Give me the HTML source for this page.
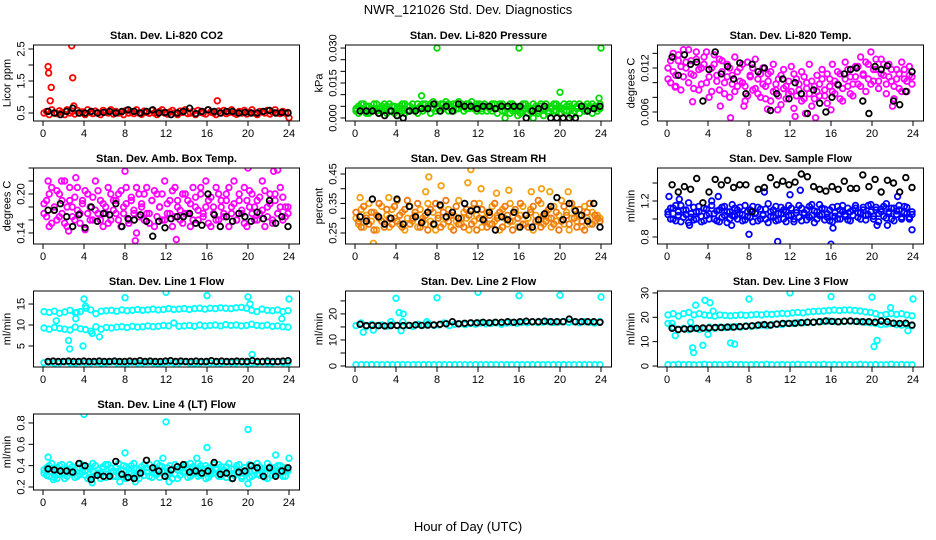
<!DOCTYPE html>
<html><head><meta charset="utf-8"><style>
html,body{margin:0;padding:0;background:#fff;}
svg{display:block;font-family:"Liberation Sans",Arial,sans-serif;}
</style></head><body>
<svg id="chart" width="936" height="540" viewBox="0 0 936 540">
<text x="468" y="14" text-anchor="middle" font-size="13">NWR_121026 Std. Dev. Diagnostics</text>
<text x="468" y="531" text-anchor="middle" font-size="13">Hour of Day (UTC)</text>
</svg>
<script>
// ---------- data ----------
const xTicks=[0,4,8,12,16,20,24];
const co2Red=[0.5,0.55,0.45,0.6,0.5,0.48,0.57,0.52,0.45,0.6,0.5,0.55,0.47,0.58,0.5,0.53,0.45,0.6,0.52,0.48,0.56,0.5,0.45,0.58,0.53,0.5,0.6,0.47,0.55,0.5,0.52,0.45,0.58,0.5,0.55,0.48,0.6,0.5,0.46,0.56,0.52,0.49,0.58,0.5,0.45,0.55,0.6,0.5,0.47,0.53,0.58,0.5,0.45,0.56,0.52,0.6,0.48,0.5,0.55,0.45,0.58,0.52,0.5,0.47,0.6,0.53,0.5,0.45,0.56,0.5,0.58,0.48,0.52,0.6,0.5,0.46,0.55,0.5,0.58,0.47,0.52,0.6,0.5,0.45,0.55,0.53,0.5,0.58,0.47,0.52,0.6,0.5,0.48,0.55,0.5,0.52];
const co2OutX=[0.5,0.55,0.8,0.7,2.8,2.9,3.0,17,24];
const co2OutY=[1.95,1.75,1.3,0.88,2.6,1.6,0.72,0.88,0.35];
const co2Black=[0.55,0.5,0.45,0.55,0.65,0.5,0.5,0.55,0.5,0.52,0.55,0.5,0.55,0.6,0.55,0.5,0.55,0.6,0.5,0.52,0.45,0.5,0.55,0.65,0.48,0.55,0.6,0.55,0.5,0.55,0.55,0.5,0.52,0.5,0.5,0.55,0.58,0.5,0.52,0.5];

const presGreen=[0.004,0.002,0.006,0.003,0.005,0.002,0.004,0.006,0.003,0.002,0.005,0.004,0.002,0.006,0.003,0.005,0.001,0.004,0.006,0.002,0.005,0.003,0.006,0.004,0.002,0.005,0.003,0.006,0.004,0.002,0.007,0.003,0.005,0.006,0.004,0.007,0.003,0.005,0.006,0.004,0.007,0.005,0.003,0.006,0.004,0.007,0.005,0.003,0.006,0.004,0.006,0.003,0.005,0.006,0.004,0.002,0.006,0.003,0.0,0.005,0.002,0.006,0.004,0.001,0.005,0.003,0.006,0.002,0.004,0.0,0.005,0.003,0.006,0.001,0.004,0.002,0.005,0.003,0.006,0.004,0.002,0.006,0.003,0.005,0.001,0.006,0.004,0.002,0.005,0.003,0.006,0.004,0.002,0.005,0.003,0.006];
const presGreen2=[0.003,0.005,0.004,0.006,0.002,0.005,0.003,0.004,0.006,0.004,0.003,0.006,0.005,0.003,0.005,0.002,0.004,0.005,0.003,0.006,0.003,0.005,0.004,0.003,0.006,0.004,0.006,0.004,0.005,0.006,0.004,0.006,0.004,0.003,0.006,0.005,0.006,0.004,0.003,0.006,0.004,0.006,0.005,0.004,0.006,0.005,0.004,0.006,0.005,0.003,0.005,0.005,0.004,0.003,0.006,0.004,0.005,0.006,0.003,0.004,0.006,0.003,0.005,0.004,0.002,0.006,0.004,0.005,0.003,0.006,0.004,0.002,0.005,0.004,0.006,0.003,0.004,0.006,0.003,0.005,0.004,0.003,0.005,0.006,0.004,0.003,0.005,0.006,0.004,0.005,0.003,0.005,0.006,0.004,0.005,0.004];
const presOutX=[8,16,24,20,6.5,23.8];
const presOutY=[0.030,0.030,0.030,0.011,0.0095,0.0085];
const presBlack=[0.003,0.003,0.003,0.002,0.001,0.003,0.001,0.0,0.003,0.003,0.004,0.004,0.006,0.003,0.005,0.003,0.006,0.005,0.005,0.004,0.005,0.005,0.004,0.005,0.005,0.005,0.005,0.0,0.003,0.004,0.005,0.0,0.0,0.0,0.0,0.0,0.005,0.003,0.004,0.005];

const tempMag=[0.012,0.010,0.014,0.011,0.013,0.009,0.0145,0.012,0.010,0.013,0.011,0.0142,0.009,0.012,0.0135,0.010,0.008,0.012,0.0138,0.011,0.009,0.013,0.010,0.0125,0.008,0.011,0.0135,0.0095,0.012,0.010,0.0075,0.0128,0.011,0.009,0.0132,0.0105,0.008,0.012,0.0095,0.0112,0.0075,0.0125,0.009,0.0105,0.007,0.0118,0.0095,0.0085,0.0122,0.0065,0.0105,0.009,0.0115,0.0078,0.010,0.0125,0.0068,0.0095,0.011,0.0082,0.0118,0.009,0.0072,0.0105,0.0125,0.0085,0.0098,0.0112,0.0075,0.0128,0.0095,0.0108,0.0082,0.0122,0.0098,0.0135,0.011,0.0088,0.0125,0.0142,0.0102,0.0118,0.0092,0.0132,0.011,0.0085,0.0125,0.0102,0.0078,0.0118,0.0092,0.0128,0.0105,0.0088,0.0122,0.0108];
const tempMag2=[0.0105,0.013,0.0115,0.0095,0.0138,0.0122,0.0108,0.0128,0.0145,0.0112,0.0092,0.0132,0.0118,0.0098,0.0125,0.0142,0.0108,0.0088,0.0125,0.0102,0.0132,0.0115,0.0085,0.0108,0.012,0.0098,0.0088,0.0115,0.0102,0.0125,0.0095,0.0082,0.0108,0.012,0.0092,0.0085,0.0112,0.0098,0.0078,0.0102,0.0115,0.0088,0.0098,0.0082,0.011,0.0092,0.0078,0.0102,0.0088,0.0112,0.0082,0.0098,0.0075,0.0108,0.0092,0.0085,0.0102,0.0078,0.0088,0.0098,0.0105,0.0082,0.0112,0.0095,0.0088,0.0102,0.0115,0.0078,0.0092,0.0105,0.0118,0.0085,0.0098,0.0108,0.0122,0.0095,0.0112,0.0128,0.0105,0.0098,0.0118,0.0132,0.0102,0.0112,0.0125,0.0098,0.0108,0.0118,0.0095,0.0105,0.0112,0.0088,0.0118,0.0102,0.011,0.0098];
const tempOutX=[0.8,2.5,6.2,5.2,7.5,9.8,10.8,12.5,13.5,14.5,16,22];
const tempOutY=[0.0094,0.0074,0.0052,0.0068,0.0068,0.0064,0.0063,0.0054,0.0058,0.0052,0.0063,0.0068];
const tempBlack=[0.0135,0.011,0.0138,0.0125,0.0128,0.0075,0.0118,0.0142,0.0112,0.0122,0.0105,0.0127,0.0085,0.0125,0.0115,0.0120,0.0062,0.0085,0.0105,0.0078,0.0100,0.0085,0.0058,0.0090,0.0072,0.0060,0.0080,0.0097,0.0112,0.0118,0.0120,0.0075,0.0058,0.0122,0.0118,0.0123,0.0075,0.0070,0.0088,0.0115];

const ambMag=[0.17,0.19,0.15,0.21,0.18,0.16,0.20,0.17,0.22,0.15,0.19,0.18,0.16,0.21,0.17,0.19,0.145,0.20,0.18,0.16,0.22,0.17,0.19,0.15,0.18,0.21,0.16,0.19,0.17,0.20,0.15,0.18,0.21,0.16,0.19,0.17,0.14,0.20,0.18,0.16,0.21,0.17,0.19,0.15,0.20,0.18,0.16,0.22,0.17,0.19,0.15,0.21,0.18,0.16,0.20,0.17,0.19,0.15,0.21,0.18,0.16,0.20,0.17,0.22,0.19,0.15,0.18,0.21,0.16,0.19,0.17,0.20,0.15,0.18,0.22,0.16,0.19,0.17,0.21,0.15,0.18,0.20,0.16,0.19,0.17,0.22,0.15,0.18,0.20,0.16,0.19,0.17,0.21,0.16,0.18,0.17];
const ambMag2=[0.185,0.165,0.2,0.155,0.175,0.205,0.165,0.19,0.155,0.18,0.21,0.165,0.195,0.175,0.155,0.185,0.205,0.17,0.16,0.195,0.175,0.205,0.16,0.185,0.17,0.155,0.2,0.175,0.19,0.16,0.205,0.17,0.185,0.155,0.195,0.175,0.21,0.165,0.185,0.2,0.17,0.155,0.19,0.205,0.165,0.18,0.2,0.16,0.185,0.17,0.205,0.165,0.19,0.175,0.155,0.2,0.17,0.185,0.16,0.195,0.175,0.21,0.165,0.18,0.155,0.195,0.17,0.16,0.2,0.18,0.165,0.19,0.21,0.17,0.185,0.16,0.2,0.175,0.155,0.19,0.205,0.17,0.18,0.16,0.195,0.175,0.205,0.165,0.185,0.155,0.2,0.17,0.18,0.195,0.165,0.18];
const ambOutX=[0.5,1.8,3.2,8.0,20,22.5,22.9,9,13,2.5];
const ambOutY=[0.22,0.22,0.225,0.235,0.24,0.235,0.237,0.128,0.13,0.143];
const ambBlack=[0.175,0.175,0.185,0.165,0.15,0.168,0.148,0.18,0.158,0.17,0.168,0.185,0.15,0.162,0.16,0.168,0.158,0.135,0.158,0.148,0.162,0.165,0.165,0.17,0.155,0.152,0.2,0.168,0.15,0.165,0.158,0.17,0.165,0.158,0.172,0.162,0.19,0.155,0.165,0.15];

const rhOrange=[0.30,0.28,0.33,0.27,0.31,0.35,0.29,0.32,0.26,0.30,0.34,0.28,0.31,0.27,0.33,0.30,0.36,0.28,0.32,0.26,0.30,0.34,0.29,0.31,0.27,0.33,0.30,0.28,0.35,0.29,0.32,0.26,0.31,0.34,0.28,0.30,0.33,0.27,0.31,0.29,0.36,0.28,0.32,0.30,0.26,0.33,0.29,0.31,0.35,0.27,0.30,0.32,0.28,0.34,0.29,0.31,0.26,0.33,0.30,0.28,0.35,0.29,0.32,0.27,0.31,0.34,0.28,0.30,0.33,0.26,0.31,0.29,0.35,0.28,0.32,0.30,0.27,0.34,0.29,0.31,0.36,0.28,0.32,0.26,0.30,0.33,0.29,0.31,0.27,0.34,0.30,0.28,0.32,0.29,0.31,0.30];
const rhOrange2=[0.32,0.29,0.27,0.34,0.30,0.28,0.32,0.26,0.31,0.35,0.29,0.27,0.33,0.30,0.28,0.34,0.29,0.31,0.27,0.33,0.36,0.28,0.30,0.32,0.35,0.27,0.29,0.31,0.26,0.33,0.28,0.35,0.30,0.27,0.32,0.36,0.29,0.31,0.26,0.34,0.28,0.30,0.27,0.33,0.31,0.28,0.35,0.26,0.30,0.33,0.29,0.27,0.31,0.28,0.35,0.30,0.32,0.27,0.34,0.31,0.29,0.26,0.33,0.30,0.35,0.28,0.31,0.27,0.32,0.34,0.29,0.36,0.27,0.31,0.29,0.33,0.30,0.28,0.32,0.26,0.29,0.34,0.31,0.28,0.35,0.30,0.27,0.33,0.29,0.26,0.32,0.35,0.28,0.31,0.30,0.29];
const rhOutX=[1.8,6.9,7.2,8.4,11.0,11.3,12.3,13.8,15.0,17.2,18.2,19,20.8,0.5,3.3];
const rhOutY=[0.215,0.39,0.44,0.41,0.42,0.465,0.40,0.385,0.395,0.39,0.40,0.39,0.39,0.37,0.37];
const rhBlack=[0.305,0.29,0.365,0.305,0.28,0.30,0.365,0.28,0.34,0.305,0.285,0.32,0.28,0.345,0.305,0.32,0.30,0.35,0.325,0.33,0.295,0.32,0.26,0.305,0.295,0.32,0.27,0.31,0.27,0.295,0.315,0.34,0.37,0.295,0.35,0.325,0.31,0.29,0.35,0.27];

const sfBlue=[1.05,1.0,1.12,0.98,1.08,1.15,1.02,1.1,0.96,1.06,1.13,1.0,1.08,0.97,1.12,1.04,1.0,1.15,1.06,0.98,1.1,1.02,1.14,0.96,1.08,1.04,1.12,1.0,1.06,0.98,1.15,1.03,1.1,0.97,1.07,1.13,1.0,1.05,1.11,0.96,1.08,1.02,1.14,0.99,1.06,1.1,0.97,1.04,1.12,1.0,1.07,1.15,0.98,1.05,1.1,1.02,1.16,0.96,1.08,1.04,1.12,0.99,1.06,1.1,0.97,1.03,1.14,1.0,1.08,1.05,1.12,0.98,1.1,1.15,1.02,1.07,1.13,0.99,1.05,1.16,1.03,1.1,0.97,1.08,1.14,1.01,1.06,1.12,0.98,1.09,1.15,1.02,1.07,1.13,1.0,1.05];
const sfBlue2=[1.08,1.12,1.0,1.15,1.04,0.97,1.1,1.05,1.18,1.02,0.99,1.08,1.14,1.03,0.98,1.11,1.06,1.2,1.0,1.09,0.97,1.13,1.04,1.08,1.0,1.16,1.03,1.1,1.13,1.05,0.99,1.08,1.02,1.14,1.06,0.98,1.11,1.04,1.0,1.17,1.03,1.1,0.98,1.06,1.13,1.0,1.08,1.15,1.04,0.97,1.1,1.02,1.12,1.07,0.99,1.14,1.04,1.09,1.0,1.16,1.05,1.11,1.02,0.98,1.13,1.07,1.0,1.1,1.15,1.03,0.99,1.08,1.04,1.12,1.07,1.0,1.1,1.04,1.15,1.08,1.0,1.13,1.06,1.11,1.03,1.17,1.08,1.0,1.12,1.05,1.1,1.0,1.14,1.06,1.02,1.08];
const sfOutX=[0.2,1.2,2.2,6.3,8,9.5,10.8,13,16,16.2,20.5,21.5,23.9,5,12,22.5];
const sfOutY=[1.25,1.22,0.93,0.93,0.83,1.3,0.75,1.32,0.72,0.9,0.93,0.93,0.88,1.25,1.27,1.25];
const sfBlack=[1.38,1.3,1.36,1.33,1.45,1.18,1.3,1.44,1.38,1.43,1.35,1.38,1.38,1.08,1.33,1.35,1.46,1.38,1.42,1.38,1.41,1.5,1.47,1.36,1.33,1.31,1.36,1.33,1.42,1.34,1.34,1.49,1.36,1.44,1.3,1.43,1.4,1.3,1.46,1.35];

const l1Upper=[13.2,13.0,13.3,12.8,13.1,13.5,12.9,13.2,14.5,13.6,12.7,13.3,13.4,13.5,13.3,13.6,13.4,13.5,13.7,13.5,13.6,13.8,13.6,13.7,13.9,13.7,13.8,13.9,13.7,13.9,14.0,13.8,14.0,13.9,14.1,14.0,13.9,14.1,14.2,14.0,13.5,13.2,13.8,13.5,13.4,13.6,13.2,13.4];
const l1Lower=[9.3,9.0,9.4,9.2,9.0,8.8,9.5,9.1,8.9,8.5,9.6,9.0,9.4,9.3,9.5,9.6,9.4,9.7,9.5,9.6,9.8,9.6,9.7,9.9,9.8,10.5,9.7,9.8,9.9,9.7,10.0,9.8,9.9,10.0,9.8,10.1,9.9,10.0,9.8,9.9,10.2,9.9,9.8,10.0,9.7,9.8,9.6,9.5];
const l1Zero=[1.0,1.1,0.9,1.0,1.2,1.0,0.9,1.1,1.0,1.0,1.1,0.9,1.0,1.2,1.0,1.0,0.9,1.1,1.0,1.0,1.1,1.0,0.9,1.0,1.1,1.0,1.0,1.2,1.0,0.9,1.0,1.1,1.0,1.0,0.9,1.1,1.0,1.0,1.1,1.0,0.9,1.0,1.1,1.0,1.0,1.2,1.0,1.0];
const l1OutX=[2.5,2.6,3.9,5.5,4.0,8.0,12,16,20,24,20.4,1.3,4.8,3.2,23.3,20.2,3.3,4.2];
const l1OutY=[6.3,4.3,5.0,7.2,16.2,16.5,17.8,17,16.7,16.2,3.0,11,8,11.5,11.5,15,13,14];
const l1Black=[1.3,1.4,1.3,1.3,1.4,1.3,1.3,1.4,1.3,1.3,1.4,1.3,1.3,1.4,1.3,1.3,1.4,1.3,1.5,1.3,1.4,1.3,1.3,1.4,1.5,1.3,1.4,1.3,1.3,1.4,1.3,1.3,1.5,1.3,1.4,1.3,1.3,1.4,1.3,1.3,1.5,1.3,1.3,1.4,1.3,1.3,1.4,1.5];

const l2Cyan=[15.5,16.5,15.2,16.0,15.5,15.8,15.3,16.0,15.5,17.0,15.6,15.2,16.0,15.7,16.3,15.6,15.8,16.5,15.5,16.0,16.2,15.9,16.3,16.1,16.5,16.2,16.4,16.6,16.0,16.5,16.7,16.4,16.8,16.6,16.9,16.7,16.8,17.0,16.7,16.9,17.1,16.8,17.0,16.6,17.0,16.8,16.5,17.0];
const l2Zero=[0.5,0.5,0.5,0.5,0.5,0.5,0.5,0.5,0.5,0.5,0.5,0.5,0.5,0.5,0.5,0.5,0.5,0.5,0.5,0.5,0.5,0.5,0.5,0.5,0.5,0.5,0.5,0.5,0.5,0.5,0.5,0.5,0.5,0.5,0.5,0.5,0.5,0.5,0.5,0.5,0.5,0.5,0.5,0.5,0.5,0.5,0.5,0.5];
const l2OutX=[0.8,1.8,4.0,4.3,4.7,4.5,8,12,16,20,24,3.5,7];
const l2OutY=[13,13.8,26,20.5,20,13.5,26.2,28.3,27,27.2,26.5,17,17];
const l2Black=[16,15.5,15.6,15.5,15.4,15.5,15.6,15.5,15.6,15.8,15.6,15.7,15.8,16,16.2,17,16.2,16.4,16.6,16.6,16.8,16.6,16.8,16.8,17,16.8,17,17.2,17,17,17.2,17,17,17,18,17,17,17,17,16.8];

const l3Upper=[21,21.5,20.5,21.5,22,21,21.5,21,20.8,20.5,21,20.8,20.6,20.8,21,20.8,21,21.2,21,21.3,21.2,21.4,21.6,21.5,21.8,22,21.8,22.2,22.4,22.5,22.6,22.8,23,22.8,23,23,22.8,22.6,22.2,22,21.5,20.8,21.2,21.5,21.2,21.5,21,20.6];
const l3Lower=[17.5,16,15,15.5,15,15.5,15,15.5,16,15.5,16,15.8,16,16.2,16,16.5,16.3,16.5,16.8,16.5,17,17.2,17,17.5,17.5,17.8,17.8,18,18,18.2,18.3,18.5,18.3,18.2,18.3,18.5,18.3,18.2,18,17.8,17.5,17,17.2,17.5,17,16.8,17,16.5];
const l3Zero=[0.6,0.5,0.7,0.5,0.6,0.5,0.5,0.7,0.5,0.6,0.5,0.5,0.7,0.5,0.6,0.5,0.5,0.6,0.5,0.7,0.5,0.5,0.6,0.5,0.5,0.7,0.5,0.6,0.5,0.5,0.7,0.5,0.6,0.5,0.5,0.6,0.5,0.7,0.5,0.5,0.6,0.5,0.5,0.7,0.5,0.6,0.5,0.5];
const l3OutX=[0.5,0.8,2.5,2.6,2.8,3.5,3.7,4.2,4.0,4.5,6.2,6.6,8,12,16,20,20.2,20.5,21.8,23.5,24,2.3];
const l3OutY=[17.5,12.5,7.5,5.5,25,8.5,27,26,13,22.5,9.5,9,27.5,30,28.5,28.3,8,10.5,24,14.5,27.5,18];
const l3Black=[15.5,15,15.2,15.3,15.5,15.6,15.6,15.8,15.8,16,16,16.2,16.3,16.5,16.8,17,16.8,17.2,17.5,17.5,17.6,17.8,18,18,18.2,18.5,18.3,18.2,18.4,18.5,18.3,18.2,18.2,18,18.5,18.2,17.6,17.5,17.6,16.8];

const l4Cyan=[0.33,0.38,0.30,0.42,0.35,0.28,0.40,0.33,0.36,0.30,0.41,0.34,0.29,0.38,0.32,0.40,0.35,0.28,0.37,0.42,0.31,0.36,0.33,0.39,0.29,0.41,0.34,0.30,0.38,0.35,0.32,0.40,0.28,0.37,0.33,0.42,0.30,0.36,0.39,0.31,0.34,0.41,0.29,0.37,0.32,0.40,0.35,0.30,0.38,0.33,0.28,0.41,0.36,0.31,0.39,0.34,0.29,0.42,0.33,0.37,0.30,0.40,0.35,0.28,0.38,0.32,0.41,0.36,0.30,0.39,0.34,0.29,0.42,0.37,0.31,0.40,0.33,0.28,0.38,0.35,0.41,0.30,0.36,0.32,0.39,0.34,0.29,0.42,0.37,0.31,0.38,0.33,0.40,0.35,0.30,0.36];
const l4Cyan2=[0.36,0.31,0.40,0.34,0.29,0.38,0.32,0.41,0.28,0.37,0.33,0.39,0.36,0.30,0.42,0.34,0.31,0.39,0.29,0.35,0.40,0.33,0.28,0.37,0.41,0.32,0.38,0.35,0.30,0.42,0.36,0.29,0.39,0.33,0.40,0.31,0.37,0.28,0.34,0.41,0.38,0.30,0.36,0.33,0.42,0.29,0.39,0.35,0.31,0.40,0.37,0.32,0.28,0.38,0.34,0.41,0.36,0.30,0.39,0.33,0.42,0.31,0.37,0.40,0.29,0.35,0.33,0.38,0.41,0.30,0.36,0.39,0.32,0.28,0.37,0.34,0.41,0.30,0.38,0.33,0.29,0.40,0.35,0.42,0.31,0.37,0.33,0.28,0.39,0.36,0.32,0.40,0.34,0.30,0.38,0.35];
const l4OutX=[0.5,4,4.8,7.5,8,9,11.7,12,12.3,15,16,20,20,22.7,24,1];
const l4OutY=[0.48,0.88,0.24,0.25,0.52,0.25,0.47,0.81,0.25,0.47,0.57,0.74,0.23,0.5,0.47,0.27];
const l4Black=[0.37,0.36,0.35,0.35,0.34,0.42,0.40,0.27,0.31,0.30,0.30,0.44,0.32,0.29,0.28,0.33,0.45,0.38,0.35,0.30,0.36,0.39,0.41,0.34,0.35,0.33,0.35,0.43,0.32,0.33,0.28,0.34,0.35,0.40,0.38,0.30,0.38,0.30,0.35,0.38];

// ---------- panels ----------
const panels=[
 {name:'co2',title:'Stan. Dev. Li-820 CO2',ylab:'Licor ppm',col:0,row:0,ymin:0.25,ymax:2.625,ticks:[0.5,1,1.5,2,2.5],labels:['0.5','','1.5','','2.5'],
  series:[[co2Red,'#ff0000']],outX:co2OutX,outY:co2OutY,outC:'#ff0000',black:co2Black},
 {name:'pressure',title:'Stan. Dev. Li-820 Pressure',ylab:'kPa',col:1,row:0,ymin:-0.0013,ymax:0.0313,ticks:[0,0.005,0.01,0.015,0.02,0.025,0.03],labels:['0.000','','','0.015','','','0.030'],
  series:[[presGreen,'#00dd00'],[presGreen2,'#00dd00']],outX:presOutX,outY:presOutY,outC:'#00dd00',black:presBlack},
 {name:'li820-temp',title:'Stan. Dev. Li-820 Temp.',ylab:'degrees C',col:2,row:0,ymin:0.00477,ymax:0.01514,ticks:[0.006,0.008,0.01,0.012,0.014],labels:['0.006','','','0.012',''],
  series:[[tempMag,'#ff00ff'],[tempMag2,'#ff00ff']],outX:tempOutX,outY:tempOutY,outC:'#ff00ff',black:tempBlack},
 {name:'amb-box-temp',title:'Stan. Dev. Amb. Box Temp.',ylab:'degrees C',col:0,row:1,ymin:0.123,ymax:0.24,ticks:[0.14,0.16,0.18,0.2,0.22,0.24],labels:['0.14','','','0.20','',''],
  series:[[ambMag,'#ff00ff'],[ambMag2,'#ff00ff']],outX:ambOutX,outY:ambOutY,outC:'#ff00ff',black:ambBlack},
 {name:'gas-stream-rh',title:'Stan. Dev. Gas Stream RH',ylab:'percent',col:1,row:1,ymin:0.2127,ymax:0.4703,ticks:[0.25,0.3,0.35,0.4,0.45],labels:['0.25','','0.35','','0.45'],
  series:[[rhOrange,'#f5a010'],[rhOrange2,'#ee7a14']],outX:rhOutX,outY:rhOutY,outC:'#f5a010',black:rhBlack},
 {name:'sample-flow',title:'Stan. Dev. Sample Flow',ylab:'ml/min',col:2,row:1,ymin:0.722,ymax:1.567,ticks:[0.8,1.0,1.2,1.4],labels:['0.8','','1.2',''],
  series:[[sfBlue,'#0000ff'],[sfBlue2,'#0000ff']],outX:sfOutX,outY:sfOutY,outC:'#0000ff',black:sfBlack},
 {name:'line1-flow',title:'Stan. Dev. Line 1 Flow',ylab:'ml/min',col:0,row:2,ymin:0,ymax:18.1,ticks:[5,10,15],labels:['5','10','15'],
  series:[[l1Upper,'#00ffff'],[l1Lower,'#00ffff'],[l1Zero,'#00ffff']],outX:l1OutX,outY:l1OutY,outC:'#00ffff',black:l1Black},
 {name:'line2-flow',title:'Stan. Dev. Line 2 Flow',ylab:'ml/min',col:1,row:2,ymin:-0.38,ymax:28.8,ticks:[0,5,10,15,20,25],labels:['0','','10','','20',''],
  series:[[l2Cyan,'#00ffff'],[l2Zero,'#00ffff']],outX:l2OutX,outY:l2OutY,outC:'#00ffff',black:l2Black},
 {name:'line3-flow',title:'Stan. Dev. Line 3 Flow',ylab:'ml/min',col:2,row:2,ymin:-0.4,ymax:30.8,ticks:[0,10,20,30],labels:['0','10','20','30'],
  series:[[l3Upper,'#00ffff'],[l3Lower,'#00ffff'],[l3Zero,'#00ffff']],outX:l3OutX,outY:l3OutY,outC:'#00ffff',black:l3Black},
 {name:'line4-flow',title:'Stan. Dev. Line 4 (LT) Flow',ylab:'ml/min',col:0,row:3,ymin:0.172,ymax:0.884,ticks:[0.2,0.4,0.6,0.8],labels:['0.2','0.4','0.6','0.8'],
  series:[[l4Cyan,'#00ffff'],[l4Cyan2,'#00ffff']],outX:l4OutX,outY:l4OutY,outC:'#00ffff',black:l4Black}
];
const colX0=[43,355,667], rowTop=[45,168,291,414], PPH=10.25, BOXH=76, BOXW=266;
const NS='http://www.w3.org/2000/svg';
const svg=document.getElementById('chart');
function mk(tag,attrs,parent){const e=document.createElementNS(NS,tag);for(const k in attrs)e.setAttribute(k,attrs[k]);parent.appendChild(e);return e;}
function circ(g,cx,cy,color){
  const c=mk('circle',{cx:cx.toFixed(1),cy:cy.toFixed(1),r:2.8,fill:'none',stroke:color,'stroke-width':1.8},g);
  
  
}
panels.forEach(p=>{
  const x0=colX0[p.col], top=rowTop[p.row], bottom=top+BOXH, left=x0-9.5;
  const sx=h=>x0+h*PPH;
  const sy=v=>bottom-(v-p.ymin)/(p.ymax-p.ymin)*BOXH;
  const g=mk('g',{},svg);
  
  
  const clip=mk('clipPath',{id:'c-'+p.name},g);
  mk('rect',{x:left,y:top,width:BOXW,height:BOXH},clip);
  const pts=mk('g',{'clip-path':'url(#c-'+p.name+')'},g);
  
  
  p.series.forEach(([arr,color])=>{
    const n=arr.length;
    arr.forEach((v,i)=>circ(pts,sx(0.1+i*23.8/(n-1)),sy(v),color));
  });
  p.outX.forEach((h,i)=>circ(pts,sx(h),sy(p.outY[i]),p.outC));
  const nb=p.black.length;
  p.black.forEach((v,i)=>circ(pts,sx(0.5+i*23.4/(nb-1)),sy(v),'#000'));
  const box=mk('rect',{x:left,y:top,width:BOXW,height:BOXH,fill:'none',stroke:'#000','stroke-width':1},g);
  
  
  const t=mk('text',{x:left+BOXW/2,y:top-6,'text-anchor':'middle','font-size':11,'font-weight':'bold'},g);
  t.textContent=p.title;
  
  
  xTicks.forEach(h=>{
    mk('line',{x1:sx(h),x2:sx(h),y1:bottom,y2:bottom+5,stroke:'#000'},g);
    const l=mk('text',{x:sx(h),y:bottom+16,'text-anchor':'middle','font-size':11},g);
    l.textContent=h;
    
    
  });
  p.ticks.forEach((v,i)=>{
    const y=sy(v);
    mk('line',{x1:left-5,x2:left,y1:y,y2:y,stroke:'#000'},g);
    if(p.labels[i]){
      const l=mk('text',{x:left-9,y:y,'text-anchor':'middle','font-size':11,transform:'rotate(-90 '+(left-9)+' '+y+')'},g);
      l.textContent=p.labels[i];
      
      
    }
  });
  const yt=mk('text',{x:left-23,y:top+BOXH/2,'text-anchor':'middle','font-size':11,transform:'rotate(-90 '+(left-23)+' '+(top+BOXH/2)+')'},g);
  yt.textContent=p.ylab;
  
  
});
</script>
</body></html>
